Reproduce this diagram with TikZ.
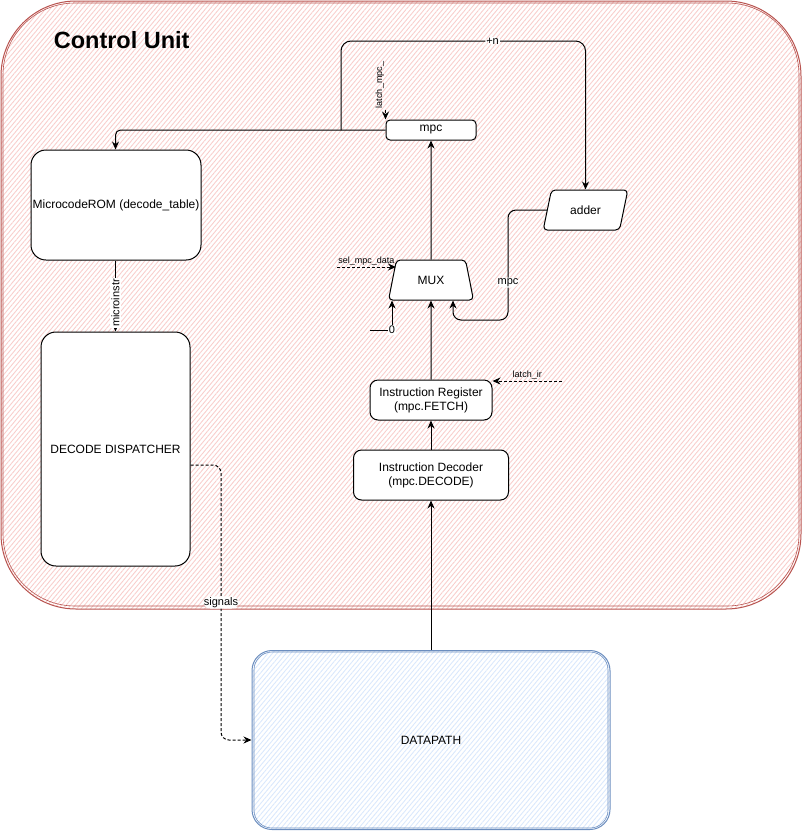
\documentclass[tikz,border=0pt]{standalone}
\usepackage{fontspec}
\setmainfont{Liberation Sans}
\usetikzlibrary{arrows.meta,shapes.geometric,patterns.meta}
\definecolor{cuFill}{HTML}{F8CECC}
\definecolor{cuLine}{HTML}{B85450}
\definecolor{dpFill}{HTML}{DAE8FC}
\definecolor{dpLine}{HTML}{6C8EBF}

\begin{document}
\begin{tikzpicture}[x=1pt, y=-1pt, font=\fontsize{12}{14}\selectfont, line width=1pt, -{Stealth[length=8pt,width=7pt]},
  block/.style={draw, fill=white, rounded corners=#1, align=center, inner sep=0pt},
  block/.default=8pt,
  lbl/.style={font=\fontsize{11}{13}\selectfont, fill=white, inner sep=1pt},
  sig/.style={font=\fontsize{9}{11}\selectfont, inner sep=1pt},
  ctl/.style={dash pattern=on 3pt off 2pt}]
	\useasboundingbox (0,0) rectangle (802,831);
	\draw[color=cuLine, pattern={Lines[angle=50,distance=3.5pt,line width=0.9pt]}, pattern color=cuFill, rounded corners=75pt] (1,1) rectangle (801,609);
	\draw[color=cuLine, line width=0.6pt, rounded corners=72pt] (3,3) rectangle (799,606);
	\node[font=\fontsize{23.5}{28}\selectfont\bfseries, anchor=west] (title) at (50,40) {Control Unit};
	\node[draw=dpLine, pattern={Lines[angle=50,distance=3.5pt,line width=0.9pt]}, pattern color=dpFill, rounded corners=20pt, minimum width=358pt, minimum height=179pt] (dp) at (431,740) {DATAPATH};
	\draw[color=dpLine, line width=0.6pt, rounded corners=18pt] (254,652) rectangle (608,828);
	% blocks of the control unit
	\node[block=15pt, minimum width=170pt, minimum height=110pt] (rom) at (116,205) {MicrocodeROM (decode\_table)};
	\node[block=15pt, minimum width=149pt, minimum height=234pt] (disp) at (115.5,449) {DECODE DISPATCHER};
	\node[block=4pt, minimum width=90pt, minimum height=20pt] (mpc) at (431,130) {mpc};
	\node[trapezium, draw, fill=white, trapezium left angle=70, trapezium right angle=70, trapezium stretches=true, minimum width=85pt, minimum height=40pt, rounded corners=4pt, inner sep=0pt] (mux) at (431,280) {MUX};
	\node[trapezium, draw, fill=white, trapezium left angle=67, trapezium right angle=113, trapezium stretches=true, minimum width=85pt, minimum height=40pt, rounded corners=4pt, inner sep=0pt] (adder) at (585.5,210) {adder};
	\node[block=8pt, minimum width=122pt, minimum height=40pt] (ir) at (431,400) {Instruction Register\\(mpc.FETCH)};
	\node[block=8pt, minimum width=155pt, minimum height=50pt] (id) at (431,475) {Instruction Decoder\\(mpc.DECODE)};
	% data path
	\draw (mux.north) -- (mpc.south);
	\draw (ir.north) -- (mux.south);
	\draw (id.north) -- (ir.south);
	\draw (dp.north) -- (id.south);
	\draw[rounded corners=5pt] (mpc.west) -| (disp.north |- rom.north);
	\coordinate (split) at (341,130);
	\coordinate (loop) at (341,41);
	\draw[rounded corners=10pt] (split) -- (loop) -| node[lbl, pos=0.31] {+n} (adder.north);
	\coordinate (fb) at (508,320);
	\draw[rounded corners=8pt] (adder.west) -| node[lbl, pos=0.83] {mpc} (fb) -| ([xshift=22pt]mux.south);
	\coordinate (zero) at (370,330);
	\draw (zero) -| node[lbl, pos=0.5] {0} ([xshift=-39pt]mux.south);
	\draw (disp.north |- rom.south) -- node[lbl, pos=0.6, rotate=90] {microinstr} (disp.north);
	% control signals
	\coordinate (selsrc) at (337,267);
	\draw[ctl] (selsrc) -- node[sig, above] {sel\_mpc\_data} ([xshift=4pt]selsrc -| mux.west);
	\coordinate (lmpc) at ([yshift=10pt]mpc.north west);
	\draw[ctl] (lmpc) node[sig, rotate=90, anchor=south west] {latch\_mpc\_} -- (mpc.north west);
	\coordinate (lir) at (562,381);
	\draw[ctl] (lir) -- node[sig, above] {latch\_ir} (lir -| ir.east);
	\coordinate (sigturn) at (221,465);
	\draw[ctl, rounded corners=8pt] (disp.east |- sigturn) -- (sigturn) |- node[lbl, pos=0.25] {signals} (dp.west);
\end{tikzpicture}
\end{document}
